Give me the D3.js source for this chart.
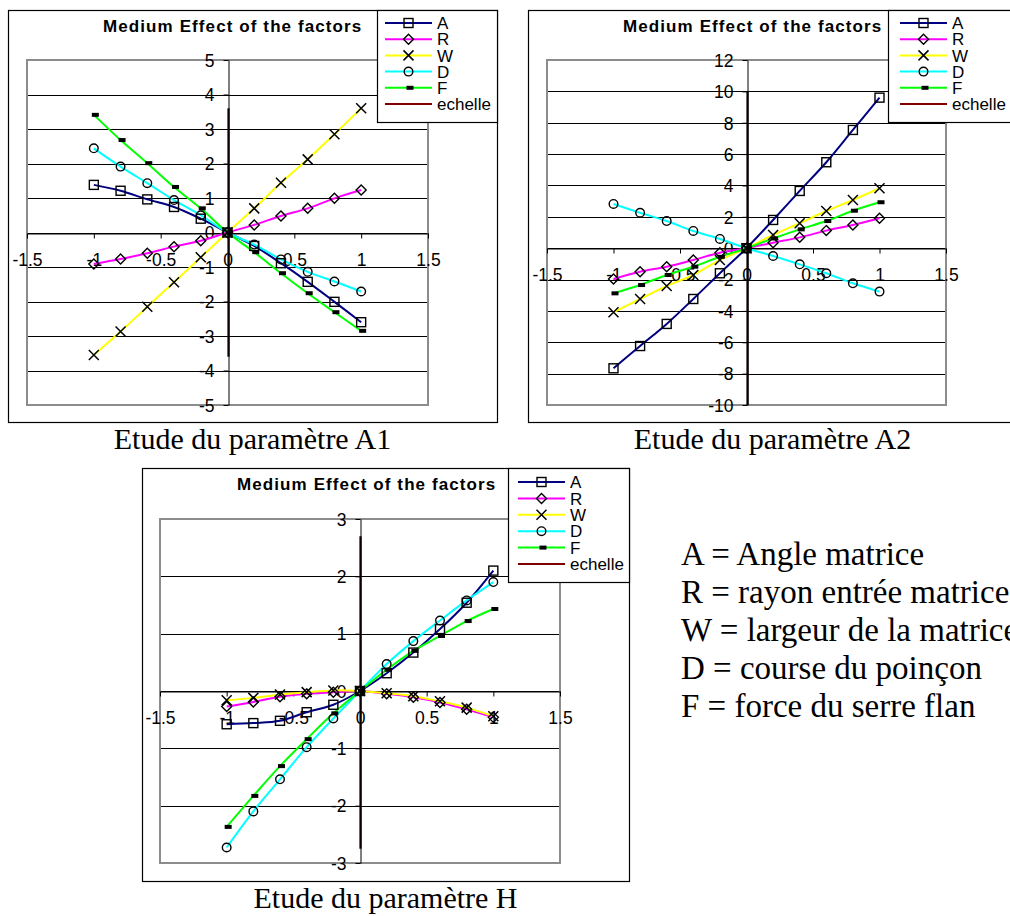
<!DOCTYPE html>
<html><head><meta charset="utf-8">
<script src="https://cdn.jsdelivr.net/npm/d3@7"></script>
<style>body{margin:0;background:#fff}svg{display:block}</style>
</head><body>
<svg id="c" width="1010" height="916"></svg>
<script>
// ---------- data ----------
const xValues = [-1, -0.8, -0.6, -0.4, -0.2, 0, 0.2, 0.4, 0.6, 0.8, 1];
const seriesNames = ["A", "R", "W", "D", "F", "echelle"];
const xTicks = [-1.5, -1, -0.5, 0, 0.5, 1, 1.5];
const chartTitle = "Medium Effect of the factors";

// Etude du paramètre A1
const a1A = [1.38, 1.21, 0.96, 0.74, 0.40, 0, -0.39, -0.89, -1.43, -2.01, -2.60];
const a1R = [-0.91, -0.77, -0.60, -0.41, -0.24, 0, 0.22, 0.48, 0.70, 0.99, 1.23];
const a1W = [-3.55, -2.87, -2.15, -1.44, -0.72, 0, 0.70, 1.44, 2.12, 2.85, 3.60];
const a1D = [2.44, 1.91, 1.43, 0.94, 0.50, 0, -0.35, -0.78, -1.14, -1.42, -1.71];
const a1F = [3.41, 2.68, 2.01, 1.32, 0.70, 0, -0.57, -1.18, -1.76, -2.31, -2.85];
const a1Echelle = [-3.6, 3.6];
const a1YTicks = [-5, -4, -3, -2, -1, 0, 1, 2, 3, 4, 5];

// Etude du paramètre A2
const a2A = [-7.66, -6.24, -4.83, -3.24, -1.60, 0, 1.80, 3.65, 5.48, 7.54, 9.60];
const a2R = [-1.96, -1.50, -1.18, -0.75, -0.29, 0, 0.35, 0.69, 1.12, 1.48, 1.91];
const a2W = [-4.09, -3.24, -2.41, -1.71, -0.75, 0, 0.84, 1.59, 2.37, 3.07, 3.82];
const a2D = [2.82, 2.26, 1.73, 1.10, 0.59, 0, -0.50, -1.03, -1.60, -2.24, -2.77];
const a2F = [-2.88, -2.35, -1.71, -1.18, -0.55, 0, 0.62, 1.20, 1.73, 2.39, 2.93];
const a2Echelle = [-10, 10];
const a2YTicks = [-10, -8, -6, -4, -2, 0, 2, 4, 6, 8, 10, 12];

// Etude du paramètre H
const hA = [-0.58, -0.56, -0.52, -0.37, -0.24, 0, 0.31, 0.67, 1.08, 1.54, 2.10];
const hR = [-0.27, -0.19, -0.10, -0.05, -0.02, 0, -0.05, -0.11, -0.20, -0.32, -0.46];
const hW = [-0.16, -0.12, -0.06, -0.02, 0.01, 0, -0.04, -0.09, -0.18, -0.29, -0.44];
const hD = [-2.73, -2.10, -1.54, -0.98, -0.48, 0, 0.47, 0.87, 1.23, 1.58, 1.90];
const hF = [-2.37, -1.83, -1.31, -0.84, -0.39, 0, 0.37, 0.70, 0.96, 1.22, 1.43];
const hEchelle = [-2.75, 2.7];
const hYTicks = [-3, -2, -1, 0, 1, 2, 3];

const captions = ["Etude du paramètre A1", "Etude du paramètre A2", "Etude du paramètre H"];
const notes = ["A = Angle matrice", "R = rayon entrée matrice", "W = largeur de la matrice",
               "D = course du poinçon", "F = force du serre flan"];

// ---------- styles ----------
const colors = {A: "#000080", R: "#ff00ff", W: "#ffff00", D: "#00ffff", F: "#00ff00", echelle: "#800000"};
const markers = {A: "square", R: "diamond", W: "cross", D: "circle", F: "dash", echelle: null};

const svg = d3.select("#c");

function drawMarker(g, type, cx, cy) {
  if (type === "square") {
    g.append("rect").attr("x", cx - 4.5).attr("y", cy - 4.5).attr("width", 9).attr("height", 9)
      .attr("fill", "none").attr("stroke", "#000").attr("stroke-width", 1.4);
  } else if (type === "diamond") {
    const s = 5;
    g.append("path").attr("d", `M${cx},${cy - s}L${cx + s},${cy}L${cx},${cy + s}L${cx - s},${cy}Z`)
      .attr("fill", "none").attr("stroke", "#000").attr("stroke-width", 1.4);
  } else if (type === "cross") {
    const s = 5;
    g.append("path").attr("d", `M${cx - s},${cy - s}L${cx + s},${cy + s}M${cx - s},${cy + s}L${cx + s},${cy - s}`)
      .attr("fill", "none").attr("stroke", "#000").attr("stroke-width", 1.5);
  } else if (type === "circle") {
    g.append("circle").attr("cx", cx).attr("cy", cy).attr("r", 4.3)
      .attr("fill", "none").attr("stroke", "#000").attr("stroke-width", 1.4);
  } else if (type === "dash") {
    g.append("rect").attr("x", cx - 2).attr("y", cy - 2).attr("width", 7).attr("height", 4).attr("fill", "#000");
  }
}

function drawChart(cfg) {
  const g = svg.append("g");
  const f = cfg.frame;
  g.append("rect").attr("x", f.x + 0.5).attr("y", f.y + 0.5).attr("width", f.w).attr("height", f.h)
    .attr("fill", "#fff").attr("stroke", "#000").attr("stroke-width", 1.2);

  const p = cfg.plot;
  const x = d3.scaleLinear().domain([-1.5, 1.5]).range([p.l, p.r]);
  const y = d3.scaleLinear().domain([cfg.yTicks[0], cfg.yTicks[cfg.yTicks.length - 1]]).range([p.b, p.t]);

  // gridlines
  g.append("g").selectAll("line").data(cfg.yTicks).join("line")
    .attr("x1", p.l).attr("x2", p.r)
    .attr("y1", d => Math.round(y(d)) + 0.5).attr("y2", d => Math.round(y(d)) + 0.5)
    .attr("stroke", "#000").attr("stroke-width", 1);
  // plot border
  g.append("rect").attr("x", p.l).attr("y", p.t).attr("width", p.r - p.l).attr("height", p.b - p.t)
    .attr("fill", "none").attr("stroke", "#8c8c8c").attr("stroke-width", 2);

  // axes
  const yAxis = d3.axisLeft(y).tickValues(cfg.yTicks).tickSize(5).tickSizeOuter(0).tickPadding(9)
    .tickFormat(d => String(d));
  const ya = g.append("g").attr("transform", `translate(${Math.round(x(0)) + 0.5},0)`).call(yAxis);
  const xAxis = d3.axisBottom(x).tickValues(xTicks).tickSize(5).tickSizeOuter(0).tickPadding(15)
    .tickFormat(d => String(d));
  const xa = g.append("g").attr("transform", `translate(0,${Math.round(y(0)) + 0.5})`).call(xAxis);
  [ya, xa].forEach(a => {
    a.selectAll("text").attr("font-family", "Liberation Sans, Arial, sans-serif").attr("font-size", 17.5).attr("fill", "#000");
    a.selectAll("line").attr("stroke", "#000");
    a.select(".domain").attr("stroke", "#000");
  });
  ya.selectAll("text").attr("dy", "0.36em");

  // series
  const line = d3.line().x((d, i) => x(xValues[i])).y(d => y(d)).curve(d3.curveCatmullRom.alpha(0.5));
  cfg.series.forEach((vals, si) => {
    const name = seriesNames[si];
    g.append("path").attr("d", line(vals)).attr("fill", "none")
      .attr("stroke", colors[name]).attr("stroke-width", 2);
  });
  // echelle
  g.append("line").attr("x1", Math.round(x(0)) + 0.5).attr("x2", Math.round(x(0)) + 0.5)
    .attr("y1", y(cfg.echelle[0])).attr("y2", y(cfg.echelle[1]))
    .attr("stroke", "#0a0000").attr("stroke-width", 2.2);
  // markers
  cfg.series.forEach((vals, si) => {
    const name = seriesNames[si];
    const mg = g.append("g");
    vals.forEach((v, i) => drawMarker(mg, markers[name], x(xValues[i]), y(v)));
  });

  // title
  g.append("text").attr("x", f.x + 95).attr("y", f.y + 22).text(chartTitle)
    .attr("font-family", "Liberation Sans, Arial, sans-serif").attr("font-weight", "bold")
    .attr("font-size", 17).attr("letter-spacing", "1.1px");

  // legend
  const L = cfg.legend;
  g.append("rect").attr("x", L.x + 0.5).attr("y", L.y + 0.5).attr("width", L.w).attr("height", L.h)
    .attr("fill", "#fff").attr("stroke", "#000").attr("stroke-width", 1.2);
  seriesNames.forEach((name, i) => {
    const ly = L.y + L.row0 + i * L.step;
    const lx1 = L.x + L.lineOff, lx2 = lx1 + 47;
    g.append("line").attr("x1", lx1).attr("x2", lx2).attr("y1", ly).attr("y2", ly)
      .attr("stroke", colors[name]).attr("stroke-width", 2);
    if (markers[name]) drawMarker(g, markers[name], (lx1 + lx2) / 2, ly);
    g.append("text").attr("x", lx2 + 5).attr("y", ly).attr("dy", "0.36em").text(name)
      .attr("font-family", "Liberation Sans, Arial, sans-serif").attr("font-size", 17);
  });

  // caption
  svg.append("text").attr("x", f.x + f.w / 2).attr("y", f.y + f.h + 27).attr("text-anchor", "middle")
    .text(cfg.caption).attr("font-family", "Liberation Serif, Times New Roman, serif").attr("font-size", 30);
}

drawChart({
  frame: {x: 8, y: 10, w: 489, h: 412},
  plot: {l: 27, r: 428, t: 60, b: 405},
  yTicks: a1YTicks, series: [a1A, a1R, a1W, a1D, a1F], echelle: a1Echelle,
  legend: {x: 377, y: 10, w: 120, h: 112, row0: 13, step: 16.2, lineOff: 8},
  caption: captions[0]
});
drawChart({
  frame: {x: 528, y: 10, w: 489, h: 412},
  plot: {l: 547, r: 946, t: 60, b: 405},
  yTicks: a2YTicks, series: [a2A, a2R, a2W, a2D, a2F], echelle: a2Echelle,
  legend: {x: 888, y: 10, w: 130, h: 112, row0: 13, step: 16.2, lineOff: 12},
  caption: captions[1]
});
drawChart({
  frame: {x: 142, y: 468, w: 487, h: 413},
  plot: {l: 160, r: 560, t: 519, b: 863},
  yTicks: hYTicks, series: [hA, hR, hW, hD, hF], echelle: hEchelle,
  legend: {x: 508, y: 468, w: 121, h: 114, row0: 14, step: 16.4, lineOff: 10},
  caption: captions[2]
});

// side notes
svg.append("g").selectAll("text").data(notes).join("text")
  .attr("x", 681).attr("y", (d, i) => 565 + i * 38).text(d => d)
  .attr("font-family", "Liberation Serif, Times New Roman, serif").attr("font-size", 33);
</script>
</body></html>
